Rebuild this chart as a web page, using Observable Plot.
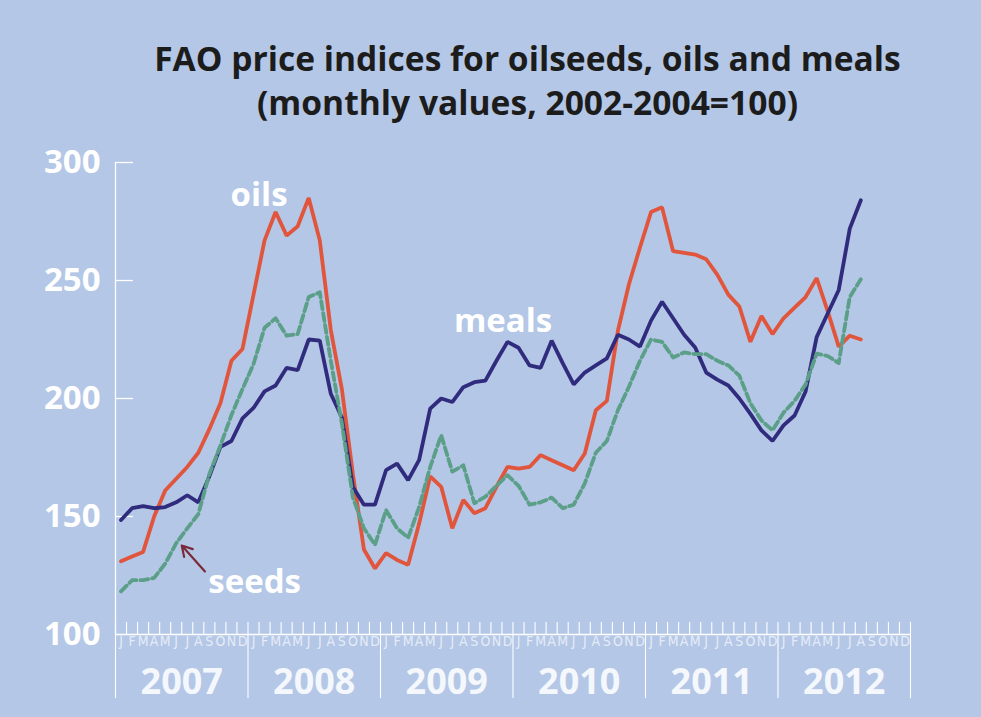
<!DOCTYPE html>
<html>
<head>
<meta charset="utf-8">
<script src="https://cdn.jsdelivr.net/npm/d3@7"></script>
<script src="https://cdn.jsdelivr.net/npm/@observablehq/plot@0.6"></script>
<style>
  html, body { margin: 0; padding: 0; background: #b4c7e6; }
  #wrap { position: relative; width: 981px; height: 717px; background: #b4c7e6; overflow: hidden; }
  #title { position: absolute; top: 36px; left: 37px; width: 981px; text-align: center;
           font-family: "Open Sans", sans-serif; font-weight: 700; font-size: 33.6px; line-height: 44px; color: #1c1c1c; }
  #chart { position: absolute; top: 0; left: 0; }
</style>
</head>
<body>
<div id="wrap">
  <div id="chart"></div>
  <div id="title">FAO price indices for oilseeds, oils and meals<br>(monthly values, 2002-2004=100)</div>
</div>
<script>
// ---- data (monthly, Jan 2007 – Aug 2012) ----
const years = [2007, 2008, 2009, 2010, 2011, 2012];
const monthLetters = ["J","F","M","A","M","J","J","A","S","O","N","D"];
const yTicks = [100, 150, 200, 250, 300];

const oils = [
  131, 133, 135, 150, 161, 166, 171, 177, 187, 198, 216, 221,
  244, 267, 279, 269, 273, 285, 267, 229, 204, 168, 136, 128,
  134.5, 131.6, 129.5, 147, 167, 162.6, 145, 157, 151.4, 153.5, 162.6, 171,
  170.3, 171, 176, 173.8, 171.7, 169.6, 176.7, 195, 199, 228.7, 248.4, 264,
  279, 281, 262.4, 261.7, 261, 259, 252.5, 244, 239, 224, 235, 227.3,
  234, 238.5, 243, 251, 237, 222, 226.6, 225
];
const meals = [
  148.5, 153.5, 154.4, 153.5, 154, 156, 159, 156, 167, 179.5, 182, 191.6,
  196, 203, 205.5, 213, 212, 225, 224.5, 202, 192, 162.5, 155, 155,
  169.6, 172.4, 165.4, 174, 195.7, 200, 198.5, 204.8, 206.9, 207.6, 216, 224,
  221.5, 214, 213, 224.5, 215, 206, 211, 214, 217, 227, 225, 222,
  233, 241, 234, 227, 221.6, 211, 208, 205.5, 200, 193.5, 186.5, 182,
  188.6, 192.8, 203, 226, 236, 246, 272, 284
];
const seeds = [
  118.3, 123, 123, 124, 130, 138.7, 145, 151, 168, 180, 193, 204,
  214.6, 230, 234, 226.6, 227.3, 243, 245, 216, 189.5, 158, 145, 138,
  152.7, 145, 141, 154, 171, 184.4, 169, 171.7, 155.6, 158.4, 163, 167.5,
  163, 155, 156, 158, 153.5, 155, 164, 177, 182, 195, 205, 216,
  225, 224, 217.4, 219.5, 218.8, 218.8, 216, 214, 209.7, 198, 190.7, 186.5,
  194, 199, 206, 219, 218, 215, 243, 250.5
];

// series labels: [text, month position, value]
const seriesLabels = [
  ["oils", 13.0, 281.5],
  ["meals", 35.1, 228],
  ["seeds", 12.6, 117.4]
];
// pointer from the "seeds" label to its line: [month1, value1, month2, value2]
const seedsPointer = [[8.1, 126.7, 6.0, 137.7]];

// ---- build ----
const nMonths = years.length * 12;
const toRows = (arr) => arr.map((v, i) => ({m: i + 0.5, v}));
const monthBounds = d3.range(0, nMonths + 1);
const monthCenters = d3.range(0, nMonths).map(i => i + 0.5);
const yearBounds = d3.range(0, nMonths + 1, 12);
const yearCenters = years.map((y, i) => i * 12 + 6);

const white = "#ffffff";
const colOils = "#e0553b";
const colMeals = "#302b7d";
const colSeeds = "#5b9f88";

const chart = Plot.plot({
  width: 981,
  height: 717,
  marginTop: 162,
  marginBottom: 83,
  marginLeft: 115,
  marginRight: 71,
  x: {domain: [0, nMonths]},
  y: {domain: [100, 300]},
  style: {background: "transparent", fontFamily: "Open Sans, sans-serif", overflow: "visible"},
  marks: [
    // y axis labels
    Plot.axisY({ticks: yTicks, tickSize: 0, tickPadding: 15, tickFormat: d => String(d),
      fontSize: 33, fontWeight: "bold", color: white, label: null}),
    // y axis ticks (pointing inward)
    Plot.axisY({ticks: yTicks.slice(1), tickSize: 18, dx: 18, tickFormat: () => "",
      color: white, strokeWidth: 1.3, label: null}),
    // axis lines
    Plot.ruleX([0], {stroke: white, strokeWidth: 1.3}),
    Plot.ruleY([100], {stroke: white, strokeWidth: 1.3}),
    // month ticks above the baseline
    Plot.axisX({ticks: monthBounds, tickSize: 12, dy: -12, tickFormat: () => "",
      color: white, strokeWidth: 1.1, label: null}),
    // year dividers below the baseline
    Plot.axisX({ticks: yearBounds, tickSize: 64, tickFormat: () => "",
      color: white, strokeWidth: 1.1, label: null}),
    // month letters
    Plot.axisX({ticks: monthCenters, tickSize: 0, tickPadding: 2,
      tickFormat: d => monthLetters[Math.floor(d) % 12],
      fontSize: 14, fontFamily: "Liberation Sans Narrow, DejaVu Sans Condensed, Roboto, sans-serif",
      color: "#e6ecf7", label: null}),
    // year labels
    Plot.axisX({ticks: yearCenters, tickSize: 0, tickPadding: 34,
      tickFormat: (d, i) => String(years[i]),
      fontSize: 36, fontWeight: "bold", color: "#f4f7fc", label: null}),
    // series
    Plot.line(toRows(oils), {x: "m", y: "v", stroke: colOils, strokeWidth: 3.8, strokeLinejoin: "miter"}),
    Plot.line(toRows(meals), {x: "m", y: "v", stroke: colMeals, strokeWidth: 3.8, strokeLinejoin: "miter"}),
    Plot.line(toRows(seeds), {x: "m", y: "v", stroke: colSeeds, strokeWidth: 3.8, strokeDasharray: "8,4"}),
    // labels
    Plot.text(seriesLabels, {x: d => d[1], y: d => d[2], text: d => d[0],
      fill: white, fontSize: 33, fontWeight: "bold", textAnchor: "middle", lineAnchor: "bottom"}),
    Plot.arrow(seedsPointer, {x1: d => d[0], y1: d => d[1], x2: d => d[2], y2: d => d[3],
      stroke: "#7a2b3b", strokeWidth: 2.2, headLength: 9})
  ]
});
document.getElementById("chart").appendChild(chart);
</script>
</body>
</html>
